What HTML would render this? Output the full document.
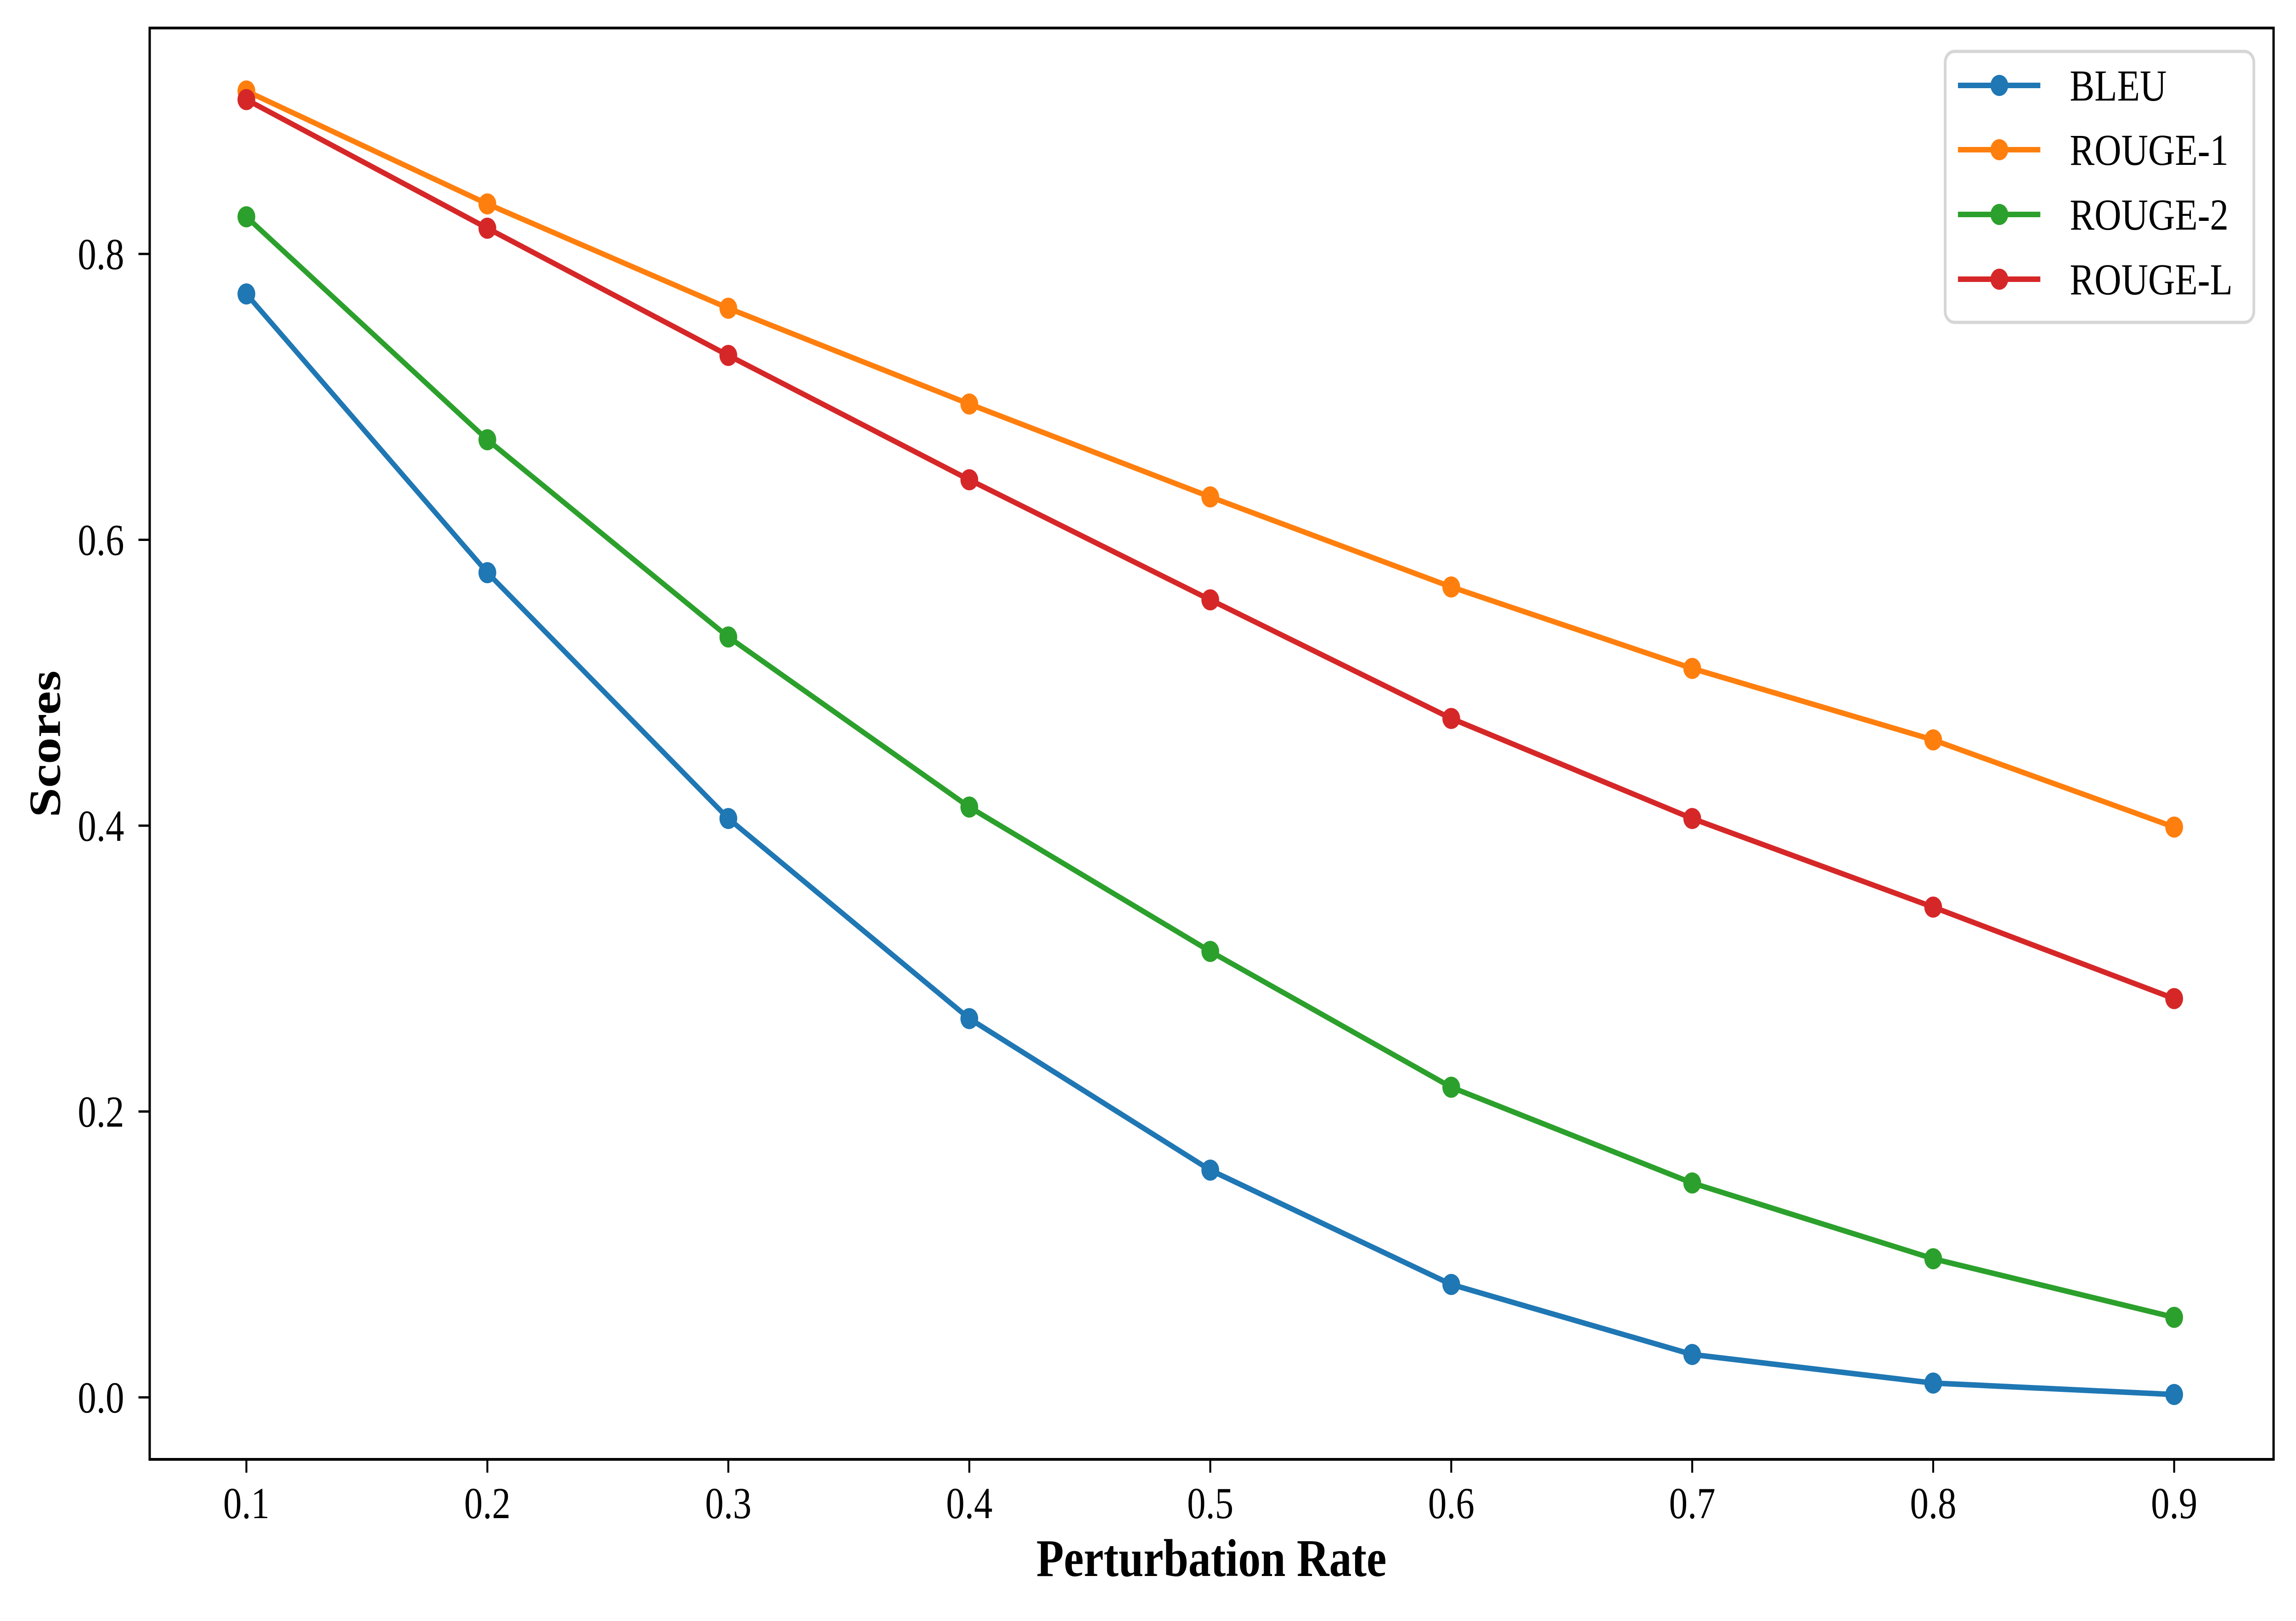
<!DOCTYPE html>
<html><head><meta charset="utf-8"><style>
html,body{margin:0;padding:0;background:#fff;width:100%;height:100%;overflow:hidden}
#chart{display:block;width:100vw;height:100vh}
svg text{font-family:"Liberation Serif",serif}
</style></head><body>
<svg id="chart" viewBox="0 0 5936 3530" preserveAspectRatio="none" xmlns="http://www.w3.org/2000/svg">
<rect width="5936" height="3530" fill="#fff"/>
<g id="plot"></g>
</svg>
<script>
const xValues = [0.1,0.2,0.3,0.4,0.5,0.6,0.7,0.8,0.9];
const bleu = [0.772,0.577,0.405,0.265,0.159,0.079,0.030,0.010,0.002];
const rouge1 = [0.914,0.835,0.762,0.695,0.630,0.567,0.510,0.460,0.399];
const rouge2 = [0.826,0.670,0.532,0.413,0.312,0.217,0.150,0.097,0.056];
const rougeL = [0.908,0.818,0.729,0.642,0.558,0.475,0.405,0.343,0.279];
const seriesNames = ["BLEU","ROUGE-1","ROUGE-2","ROUGE-L"];
const xTicks = [0.1,0.2,0.3,0.4,0.5,0.6,0.7,0.8,0.9];
const yTicks = [0.0,0.2,0.4,0.6,0.8];

const NS="http://www.w3.org/2000/svg";
const g=document.getElementById('plot');
const L=387,R=5878,T=61,B=3178;
function xs(v){return 637+(v-0.1)*6230;}
function ys(v){return 3043-v*3112.5;}
function mk(tag,attrs,parent){const e=document.createElementNS(NS,tag);for(const k in attrs)e.setAttribute(k,attrs[k]);(parent||g).appendChild(e);return e;}

const colors=["#1f77b4","#ff7f0e","#2ca02c","#d62728"];
const allSeries=[bleu,rouge1,rouge2,rougeL];
allSeries.forEach((s,i)=>{
  const sg=mk('g',{});
  
  
  const pts=s.map((v,j)=>xs(xValues[j])+','+ys(v)).join(' ');
  const pl=mk('polyline',{points:pts,fill:'none',stroke:colors[i],'stroke-width':12,'stroke-linejoin':'round'},sg);
  
  
  s.forEach((v,j)=>{
    const c=mk('circle',{cx:xs(xValues[j]),cy:ys(v),r:23,fill:colors[i]},sg);
    
    
  });
});

const fr=mk('rect',{x:L,y:T,width:R-L,height:B-T,fill:'none',stroke:'#000','stroke-width':6});



xTicks.forEach(v=>{
  const t=mk('line',{x1:xs(v),x2:xs(v),y1:B,y2:B+29,stroke:'#000','stroke-width':5});
  
  
  const tx=mk('text',{x:xs(v),y:3306,'font-size':96,'text-anchor':'middle',fill:'#000'});
  tx.textContent=v.toFixed(1);
  
  
});
yTicks.forEach(v=>{
  const t=mk('line',{x1:L-29,x2:L,y1:ys(v),y2:ys(v),stroke:'#000','stroke-width':5});
  
  
  const tx=mk('text',{x:321,y:ys(v)+33,'font-size':96,'text-anchor':'end',fill:'#000'});
  tx.textContent=v.toFixed(1);
  
  
});

const xl=mk('text',{x:3132,y:3432,'font-size':116,'font-weight':'bold','text-anchor':'middle',fill:'#000'});
xl.textContent='Perturbation Rate';


const yl=mk('text',{x:0,y:0,'font-size':116,'font-weight':'bold','text-anchor':'middle',fill:'#000',transform:'translate(155,1620) rotate(-90)'});
yl.textContent='Scores';



const lg=mk('g',{});


mk('rect',{x:5029,y:112,width:798,height:590,rx:24,fill:'#fff',stroke:'#d6d6d6','stroke-width':7},lg);
const rowsY=[186,326,467,608];
seriesNames.forEach((n,i)=>{
  const e=mk('g',{},lg);
  
  
  mk('line',{x1:5062,x2:5275,y1:rowsY[i],y2:rowsY[i],stroke:colors[i],'stroke-width':12},e);
  mk('circle',{cx:5169,cy:rowsY[i],r:23,fill:colors[i]},e);
  const t=mk('text',{x:5351,y:rowsY[i]+33,'font-size':96,fill:'#000'},e);
  t.textContent=n;
});
</script>
</body></html>
